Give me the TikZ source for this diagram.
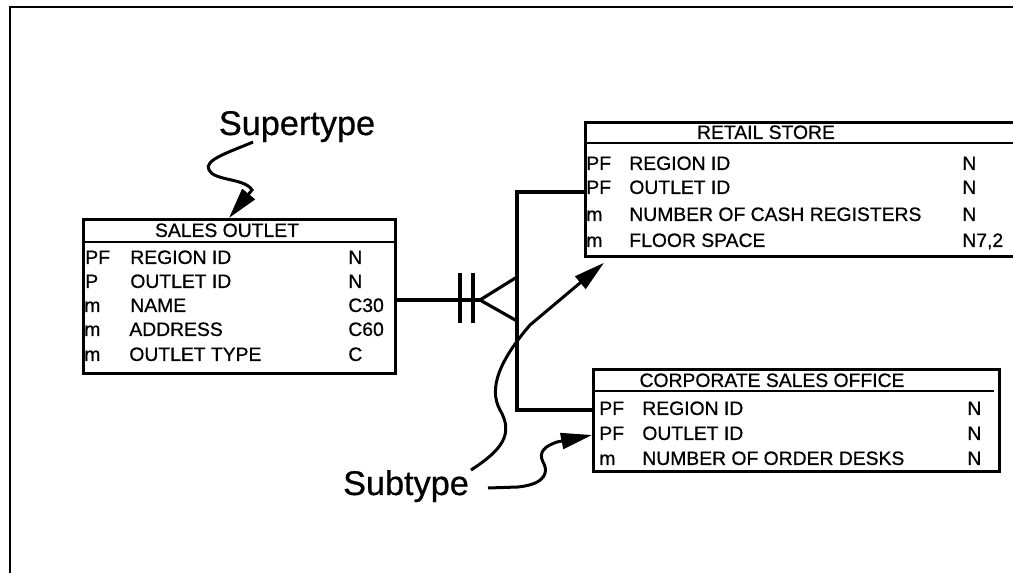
\documentclass[tikz,border=0pt]{standalone}
\usepackage{fontspec}
\setmainfont{Liberation Sans}
\newfontfamily\entfont{Liberation Sans}[FakeBold=0.7]
\usetikzlibrary{arrows.meta,calc}

\begin{document}
\begin{tikzpicture}[x=0.02cm,y=-0.02cm,
 entity/.style={draw,line width=1.6pt,anchor=north west,inner sep=0pt},
 head/.style={font=\entfont\fontsize{11}{13}\selectfont,text height=7.9pt,text depth=0pt,inner sep=0pt},
 field/.style={head,anchor=west},
 divider/.style={line width=1.2pt},
 link/.style={line width=1.8pt},
 pointer/.style={line width=1.7pt,-{Triangle[length=6.2mm,width=3.2mm]}},
 tag/.style={font=\entfont\fontsize{19.5}{23}\selectfont,anchor=base,inner sep=0pt}]

% Canvas and frame (right and bottom edge run off the page)
\useasboundingbox (0,0) rectangle (1013,573);
\fill[white] (0,0) rectangle (1013,573);
\draw[line width=0.8pt] (1013,7) -- (10,7) -- (10,573);

% Supertype entity
\node[entity,minimum width=6.24cm,minimum height=3.08cm] (outlet) at (82,218) {};
\draw[divider] ([yshift=-0.48cm]outlet.north west) -- ([yshift=-0.48cm]outlet.north east);
\node[head] (outletT) at (227,230) {SALES OUTLET};
\node[field] (o1k) at (85,257) {PF}; \node[field] (o1n) at (130,257) {REGION ID}; \node[field] (o1t) at (348,257) {N};
\node[field] (o2k) at (85,281) {P}; \node[field] (o2n) at (130,281) {OUTLET ID}; \node[field] (o2t) at (348,281) {N};
\node[field] (o3k) at (84,305) {m}; \node[field] (o3n) at (130,305) {NAME}; \node[field] (o3t) at (348,305) {C30};
\node[field] (o4k) at (84,329) {m}; \node[field] (o4n) at (129,329) {ADDRESS}; \node[field] (o4t) at (348,329) {C60};
\node[field] (o5k) at (84,354) {m}; \node[field] (o5n) at (129,354) {OUTLET TYPE}; \node[field] (o5t) at (348,354) {C};

% Subtype entities
\node[entity,minimum width=8.64cm,minimum height=2.68cm] (retail) at (584,121) {};
\draw[divider] ([yshift=-0.44cm]retail.north west) -- ([yshift=-0.44cm]retail.north east);
\node[head] (retailT) at (766,132) {RETAIL STORE};
\node[field] (r1k) at (586,163) {PF}; \node[field] (r1n) at (629,163) {REGION ID}; \node[field] (r1t) at (962,163) {N};
\node[field] (r2k) at (586,187) {PF}; \node[field] (r2n) at (629,187) {OUTLET ID}; \node[field] (r2t) at (962,187) {N};
\node[field] (r3k) at (586,214) {m}; \node[field] (r3n) at (629,214) {NUMBER OF CASH REGISTERS}; \node[field] (r3t) at (962,214) {N};
\node[field] (r4k) at (586,240) {m}; \node[field] (r4n) at (629,240) {FLOOR SPACE}; \node[field] (r4t) at (962,240) {N7,2};

\node[entity,minimum width=8.12cm,minimum height=2.04cm] (office) at (592,368) {};
\draw[divider] ([yshift=-0.46cm]office.north west) -- ([yshift=-0.46cm,xshift=-0.14cm]office.north east);
\node[head] (officeT) at (772,380) {CORPORATE SALES OFFICE};
\node[field] (c1k) at (599,408) {PF}; \node[field] (c1n) at (642,408) {REGION ID}; \node[field] (c1t) at (967,408) {N};
\node[field] (c2k) at (599,433) {PF}; \node[field] (c2n) at (642,433) {OUTLET ID}; \node[field] (c2t) at (967,433) {N};
\node[field] (c3k) at (599,458) {m}; \node[field] (c3n) at (642,458) {NUMBER OF ORDER DESKS}; \node[field] (c3t) at (967,458) {N};

% Relationship: one outlet, bar and crow's foot onto the subtype bus
\coordinate (apex) at (480,300);
\coordinate (bus) at (517,300);
\coordinate (retailIn) at ($(retail.north west)+(0,71)$);
\coordinate (officeIn) at ($(office.north west)+(0,42)$);
\draw[link] (outlet.east |- apex) -- (apex);
\draw[link] ($(apex)+(-20,-27)$) -- ++(0,50);
\draw[link] ($(apex)+(-7,-27)$) -- ++(0,50);
\draw[link] ($(bus)+(0,-23)$) -- (apex) -- ($(bus)+(0,21)$);
\draw[link] (retailIn) -- (retailIn -| bus) -- (officeIn -| bus) -- (officeIn);

% Callouts
\node[tag] (sup) at (297,135) {Supertype};
\node[tag] (sub) at (406,495) {Subtype};
\coordinate (supTail) at ($(sup.base)+(-44,7)$);
\coordinate (supTip) at ($(outlet.north west)+(147,0)$);
\coordinate (subTailA) at ($(sub.base)+(65,-25)$);
\coordinate (retailTip) at ($(retail.south west)+(20,5)$);
\coordinate (subTailB) at ($(sub.base)+(82,-7)$);
\coordinate (officeTip) at ($(office.north west)+(0,67)$);
\draw[pointer] (supTail) .. controls (230,152) and (203,160) .. (209,170)
 .. controls (214,181) and (245,178) .. (252,190) -- (supTip);
\draw[pointer] (subTailA) .. controls (502,450) and (514,434) .. (500,410)
 .. controls (488,388) and (500,360) .. (530,325) -- (retailTip);
\draw[pointer] (subTailB) -- (518,487) .. controls (548,484) and (548,470) .. (543,462)
 .. controls (538,452) and (545,446) .. (557,442) -- (officeTip);
\end{tikzpicture}
\end{document}
